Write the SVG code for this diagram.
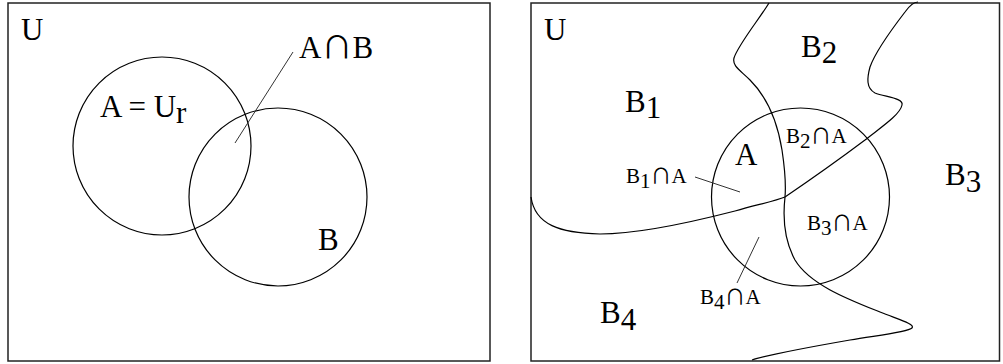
<svg xmlns="http://www.w3.org/2000/svg" width="1003" height="364" viewBox="0 0 1003 364">
<style>
.frame{fill:#fff;stroke:#222;stroke-width:1.5}
.ln{fill:none;stroke:#000;stroke-width:1.2}
.lead{fill:none;stroke:#333;stroke-width:1}
.big{font-family:"Liberation Serif","Times New Roman",serif;font-size:31px;fill:#000}
.sm{font-family:"Liberation Serif","Times New Roman",serif;font-size:21px;fill:#000}
.cjk{font-family:"Noto Sans CJK JP",sans-serif}
</style>
<rect width="1003" height="364" fill="#fff"/>
<g id="left-panel">
  <rect id="U-left" class="frame" x="8" y="3" width="482" height="358" stroke="#444"/>
  <text class="big" x="21" y="40">U</text>
  <g id="circle-A-left">
    <circle class="ln" cx="162" cy="146" r="89"/>
    <text class="big" x="100" y="117">A = U<tspan dy="6">r</tspan></text>
  </g>
  <g id="circle-B-left">
    <circle class="ln" cx="278" cy="197" r="89"/>
    <text class="big" x="318" y="250">B</text>
  </g>
  <g id="label-AnB">
    <text class="big" x="299" y="58">A<tspan class="cjk" font-size="31">∩</tspan>B</text>
  </g>
</g>
<g id="right-panel">
  <rect id="U-right" class="frame" x="531" y="3" width="468.5" height="358"/>
  <text class="big" x="544" y="40">U</text>
  <g id="circle-A-right">
    <circle class="ln" cx="800.5" cy="197" r="89"/>
    <text class="big" x="735" y="165">A</text>
  </g>
  <g id="region-labels">
    <text class="big" x="625" y="112">B<tspan dy="6">1</tspan></text>
    <text class="big" x="801" y="57">B<tspan dy="6">2</tspan></text>
    <text class="big" x="945" y="185">B<tspan dy="7">3</tspan></text>
    <text class="big" x="600" y="323">B<tspan dy="7">4</tspan></text>
    <text class="sm" x="626" y="183">B<tspan dy="5">1</tspan><tspan dy="-5" class="cjk">∩</tspan>A</text>
    <text class="sm" x="786" y="143">B<tspan dy="5">2</tspan><tspan dy="-5" class="cjk">∩</tspan>A</text>
    <text class="sm" x="807" y="230">B<tspan dy="5">3</tspan><tspan dy="-5" class="cjk">∩</tspan>A</text>
    <text class="sm" x="700" y="304">B<tspan dy="5">4</tspan><tspan dy="-5" class="cjk">∩</tspan>A</text>
  </g>
</g>
<g id="connectors">
  <line class="lead" x1="293" y1="52" x2="235" y2="143"/>
  <line class="lead" x1="695" y1="177" x2="740" y2="192"/>
  <line class="lead" x1="737" y1="283" x2="759" y2="237"/>
  <path class="ln" d="M769,3 C760,18 738,45 734,58 C732,66 740,70 750,80 C770,100 778,125 782,150 C785,170 786,185 785,197 C783,215 784,240 795,260 C810,285 850,300 880,312 C900,320 915,324 912,328 C908,332 880,335 850,340 C810,347 770,354 752,360"/>
  <path class="ln" d="M531,197 C535,225 560,233 600,234 C640,234 700,220 735,211 C760,204 775,201 785,197"/>
  <path class="ln" d="M785,197 C810,180 845,155 865,140 C880,128 900,115 902,105 C904,98 885,97 875,93 C866,88 867,78 870,67 C876,50 895,25 905,12 C910,5 914,2 918,2"/>
</g>
</svg>
